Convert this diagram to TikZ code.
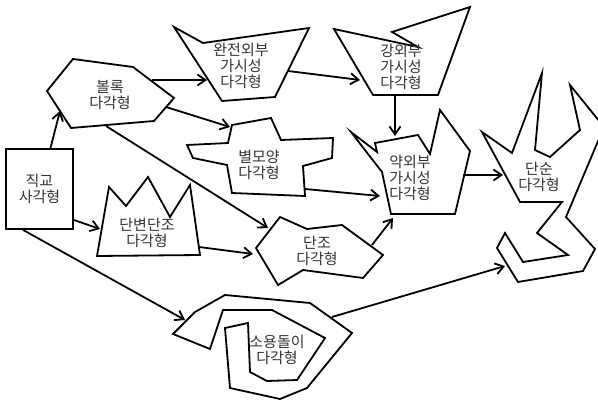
\documentclass[tikz,border=0pt]{standalone}
\usepackage{fontspec}
\newfontfamily\krfont{Noto Sans CJK KR}
\usetikzlibrary{arrows.meta}

\begin{document}
\begin{tikzpicture}[x=1pt,y=-1pt,
  poly/.style={draw,line width=1.8pt,line join=miter},
  arr/.style={line width=1.8pt,-{Straight Barb[length=8pt,width=11pt]}},
  lbl/.style={font=\krfont\fontsize{15}{16}\selectfont,align=center,text=black!80,inner sep=0pt}]
\useasboundingbox (0,0) rectangle (598,401);
\clip (0,0) rectangle (598,401);

% polygons
\draw[poly] (47,91) -- (73,59) -- (133,67) -- (174,98) -- (154,121) -- (71,128) -- cycle;
\draw[poly] (174,27) -- (203,43) -- (309,28) -- (275,97) -- (222,101) -- cycle;
\draw[poly] (334,29) -- (418,47) -- (392,32) -- (470,7) -- (438,95) -- (373,95) -- cycle;
\draw[poly] (418,135) -- (375,143) -- (377,152) -- (351,132) -- (382,172) -- (391,214)
  -- (455,214) -- (470,151) -- (440,110) -- (430,154) -- cycle;
\draw[poly] (482,132) -- (512,153) -- (542,73) -- (535,150) -- (550,157) -- (580,130)
  -- (570,85) -- (604,127) -- (566,217) -- (595,249) -- (583,271) -- (518,282)
  -- (497,248) -- (505,233) -- (523,262) -- (568,255) -- (537,233) -- (562,202)
  -- (520,202) -- cycle;
\draw[poly] (232,125) -- (271,118) -- (281,140) -- (333,138) -- (332,158) -- (303,166)
  -- (305,196) -- (232,193) -- (227,165) -- (193,158) -- (187,145) -- (228,143) -- cycle;
\draw[poly] (109,187) -- (126,206) -- (148,177) -- (170,217) -- (190,185) -- (200,255)
  -- (97,256) -- cycle;
\draw[poly] (256,248) -- (280,217) -- (307,229) -- (342,225) -- (383,255) -- (363,278)
  -- (303,270) -- (278,285) -- cycle;
\draw[poly] (173,334) -- (195,312) -- (225,295) -- (310,303) -- (352,333) -- (307,388)
  -- (280,399) -- (230,388) -- (225,328) -- (248,323) -- (250,372) -- (267,381)
  -- (297,380) -- (325,338) -- (272,310) -- (223,310) -- (210,349) -- cycle;

% labels
\node[lbl,draw,line width=1.8pt,minimum width=67pt,minimum height=80pt] (ortho) at (39.5,189) {직교\\사각형};
\node[lbl] (convex) at (110,95) {볼록\\다각형};
\node[lbl] (perfect) at (241,66) {완전외부\\가시성\\다각형};
\node[lbl] (strong) at (401,67) {강외부\\가시성\\다각형};
\node[lbl] (weak) at (410,178) {약외부\\가시성\\다각형};
\node[lbl] (simple) at (539,177) {단순\\다각형};
\node[lbl] (star) at (259,165) {별모양\\다각형};
\node[lbl] (edgemono) at (147,233) {단변단조\\다각형};
\node[lbl] (mono) at (317,251) {단조\\다각형};
\node[lbl] (spiral) at (277,350) {소용돌이\\다각형};

% arrow ends
\coordinate (convex-in) at (60,111);
\coordinate (convex-a) at (152,80);
\coordinate (convex-b) at (166,107);
\coordinate (convex-c) at (106,126);
\coordinate (perfect-in) at (207,80);
\coordinate (perfect-out) at (288,71);
\coordinate (strong-in) at (360,80);
\coordinate (strong-out) at (395,95);
\coordinate (weak-in1) at (395,136);
\coordinate (weak-in2) at (380,196);
\coordinate (weak-in3) at (393,218);
\coordinate (weak-out) at (463,175);
\coordinate (simple-in1) at (503,175);
\coordinate (simple-in2) at (505,266);
\coordinate (star-in) at (230,127);
\coordinate (star-out) at (305,189);
\coordinate (edgemono-in) at (100,229);
\coordinate (edgemono-out) at (199,247);
\coordinate (mono-in1) at (268,228);
\coordinate (mono-in2) at (253,254);
\coordinate (mono-out) at (372,245);
\coordinate (spiral-in) at (185,320);
\coordinate (spiral-out) at (332,317);

% arrows
\draw[arr] (ortho.75) -- (convex-in);
\draw[arr] (ortho.-42) -- (edgemono-in);
\draw[arr] (ortho.-112) -- (spiral-in);
\draw[arr] (convex-a) -- (perfect-in);
\draw[arr] (convex-b) -- (star-in);
\draw[arr] (convex-c) -- (mono-in1);
\draw[arr] (edgemono-out) -- (mono-in2);
\draw[arr] (perfect-out) -- (strong-in);
\draw[arr] (strong-out) -- (weak-in1);
\draw[arr] (star-out) -- (weak-in2);
\draw[arr] (mono-out) -- (weak-in3);
\draw[arr] (weak-out) -- (simple-in1);
\draw[arr] (spiral-out) -- (simple-in2);
\end{tikzpicture}
\end{document}
